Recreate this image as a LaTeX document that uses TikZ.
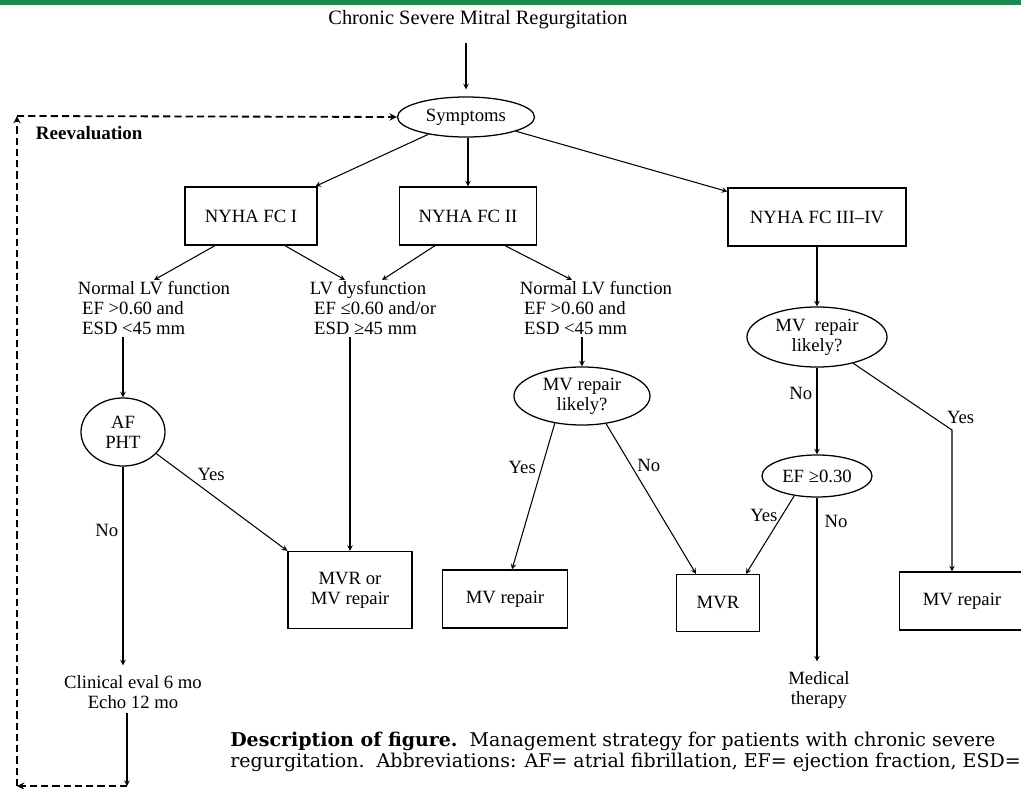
\documentclass[tikz,border=0pt]{standalone}
\usepackage{fontspec}
\setmainfont{Liberation Serif}
\newfontfamily\captionserif{DejaVu Serif}
\usetikzlibrary{calc}
\usetikzlibrary{shapes.geometric}
\definecolor{bannergreen}{RGB}{28,138,78}
\tikzset{
    % Sharp little arrow heads, as in the printed chart
    >=stealth,
%
    % Ordinary chart lettering
    chart font/.style={font=\fontsize{13.3pt}{14.2pt}\selectfont},
%
    % Boxed end points of the strategy
    outcome/.style={draw, rectangle, line width=0.9pt, inner sep=0,
        align=center, chart font},
%
    % Oval questions
    question/.style={draw, ellipse, line width=0.9pt, inner sep=0,
        align=center, chart font},
%
    % Unframed findings
    finding/.style={align=left, inner sep=1pt, chart font},
%
    % Yes/No marks on the connectors
    answer/.style={inner sep=1pt, chart font},
%
    % Caption lines under the chart
    caption line/.style={anchor=base west, inner sep=0,
        font=\captionserif\fontsize{13.5pt}{15pt}\selectfont},
%
    flow/.style={->, line width=0.75pt},
    loop back/.style={->, line width=1.3pt, dash pattern=on 5pt off 3pt}}

\begin{document}
\begin{tikzpicture}[x=0.025cm, y=-0.025cm]
\clip (0,0) rectangle (1021,789);
\fill[bannergreen] (0,0) rectangle (1021,5);

% Heading and the first question
\node[font=\fontsize{14.5pt}{16pt}\selectfont] (heading) at (478,20)
    {Chronic Severe Mitral Regurgitation};
\node[question, minimum width=3.425cm, minimum height=1cm]
    (symptoms) at (466,117) {Symptoms};
\draw[flow, shorten <=6pt, shorten >=5pt]
    (heading.south -| symptoms.north) -- (symptoms.north);

% Functional classes
\node[outcome, minimum width=3.3cm, minimum height=1.45cm]
    (fc one) at (251,216) {NYHA FC I};
\node[outcome, minimum width=3.425cm, minimum height=1.45cm]
    (fc two) at (468,216) {NYHA FC II};
\node[outcome, minimum width=4.45cm, minimum height=1.45cm]
    (fc three) at (817,217) {NYHA FC III–IV};

\draw[flow] (symptoms) -- (fc one);
\draw[flow] (symptoms.south -| fc two) -- (fc two);
\draw[flow] (symptoms) -- (fc three);

% LV findings
\node[finding, anchor=north] (normal one) at (154,280)
    {Normal LV function\\\hspace{3pt}EF >0.60 and\\\hspace{3pt}ESD <45 mm};
\node[finding, anchor=north] (lv dysfunction) at (373,280)
    {LV dysfunction\\\hspace{3pt}EF ≤0.60 and/or\\\hspace{3pt}ESD ≥45 mm};
\node[finding, anchor=north] (normal two) at (596,280)
    {Normal LV function\\\hspace{3pt}EF >0.60 and\\\hspace{3pt}ESD <45 mm};

\draw[flow] ($(fc one.south)+(-36,0)$) -- (normal one.north);
\draw[flow] ($(fc one.south)+(34,0)$) -- ($(lv dysfunction.north)+(-28,0)$);
\draw[flow] ($(fc two.south)+(-33,0)$) -- ($(lv dysfunction.north)+(9,0)$);
\draw[flow] ($(fc two.south)+(37,0)$) -- ($(normal two.north)+(-24,0)$);

% Left branch
\node[question, minimum width=2.1cm, minimum height=1.7cm]
    (af pht) at (123,432) {AF\\PHT};
\draw[flow] (af pht.north |- normal one.south) -- (af pht.north);

\node[outcome, minimum width=3.1cm, minimum height=1.925cm]
    (mvr or repair) at (350,590) {MVR or\\MV repair};
\draw[flow] (mvr or repair.north |- lv dysfunction.south) -- (mvr or repair.north);
\draw[flow] (af pht.327)
    -- node[answer, pos=0.3, anchor=south west] (af yes) {Yes}
    (mvr or repair.north west);

\node[finding, align=center] (follow up) at (133,692)
    {Clinical eval 6 mo\\Echo 12 mo};
\draw[flow, shorten >=6pt] (af pht.south)
    -- node[answer, pos=0.31, left=2pt] (af no) {No}
    (af pht.south |- follow up.north);

% Reevaluation loop back up to the symptoms
\coordinate (loop se) at (127,786);
\coordinate (loop sw) at (17,786);
\coordinate (loop nw) at (17,116);
\draw[flow, shorten <=2pt] (follow up.south -| loop se) -- (loop se);
\draw[loop back] (loop se) -- (loop sw);
\draw[loop back] (loop sw) -- (loop nw);
\draw[loop back] (loop nw) -- (symptoms.west);
\node[anchor=west, font=\bfseries\fontsize{13.5pt}{14pt}\selectfont]
    (reevaluation) at (31,133) {Reevaluation};

% Middle branch
\node[question, minimum width=3.4cm, minimum height=1.45cm]
    (repair likely one) at (582,396) {MV repair\\likely?};
\draw[flow] (repair likely one.north |- normal two.south) -- (repair likely one.north);
\node[outcome, minimum width=3.125cm, minimum height=1.45cm]
    (repair one) at (505,599) {MV repair};
\node[outcome, minimum width=2.075cm, minimum height=1.425cm]
    (mvr) at (718,603) {MVR};
\draw[flow] (repair likely one.225)
    -- node[answer, pos=0.3, left=3pt] (likely one yes) {Yes}
    ($(repair one.north)+(7,0)$);
\draw[flow] (repair likely one.311)
    -- node[answer, pos=0.28, right=3pt] (likely one no) {No}
    ($(mvr.north)+(-22,0)$);

% Right branch
\node[question, minimum width=3.5cm, minimum height=1.5cm]
    (repair likely two) at (817,337) {MV\ \ repair\\likely?};
\draw[flow] (fc three) -- (repair likely two);
\node[question, minimum width=2.75cm, minimum height=1.05cm]
    (ef check) at (817,476) {EF ≥0.30};
\draw[flow] (repair likely two)
    -- node[answer, pos=0.3, left=2pt] (likely two no) {No} (ef check);

\node[outcome, minimum width=3.125cm, minimum height=1.45cm]
    (repair two) at (962,601) {MV repair};
\coordinate (yes bend) at (952,430);
\draw[flow] (repair likely two.-36)
    -- node[answer, pos=0.93, above right] (likely two yes) {Yes} (yes bend)
    -- (yes bend |- repair two.north);

\draw[flow] (ef check.221)
    -- node[answer, pos=0.25, left=2pt] (ef yes) {Yes}
    ($(mvr.north)+(28,0)$);
\node[finding, align=center] (medical) at (819,690) {Medical\\therapy};
\draw[flow, shorten >=6pt] (ef check.south)
    -- node[answer, pos=0.14, right=4pt] (ef no) {No}
    (ef check.south |- medical.north);

% Caption under the chart
\node[caption line] (caption one) at (230,746)
    {\textbf{Description of figure.}\ \ Management strategy for patients with chronic severe};
\node[caption line] (caption two) at (230,767)
    {regurgitation.\ \ Abbreviations: AF= atrial fibrillation, EF= ejection fraction, ESD=};

\end{tikzpicture}
\end{document}
